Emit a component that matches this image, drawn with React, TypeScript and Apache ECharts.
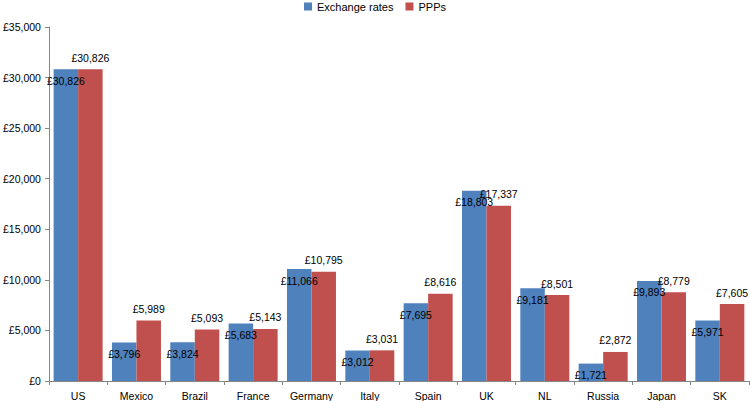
import React, { useEffect, useRef } from "react";
import * as echarts from "echarts";

const categories = ["US", "Mexico", "Brazil", "France", "Germany", "Italy", "Spain", "UK", "NL", "Russia", "Japan", "SK"];
const exchangeRates = [30826, 3796, 3824, 5683, 11066, 3012, 7695, 18803, 9181, 1721, 9893, 5971];
const ppps = [30826, 5989, 5093, 5143, 10795, 3031, 8616, 17337, 8501, 2872, 8779, 7605];

const fmt = (v: number) => "£" + v.toLocaleString("en-US");
const FONT = "Liberation Sans";

export default function App() {
  const ref = useRef<HTMLDivElement>(null);
  useEffect(() => {
    if (!ref.current) return;
    const chart = echarts.init(ref.current, undefined, { renderer: "svg" });
    chart.setOption({
      animation: false,
      textStyle: { fontFamily: FONT },
      legend: {
        top: 0,
        left: "center",
        padding: [1, 5],
        icon: "rect",
        itemWidth: 8,
        itemHeight: 8,
        itemGap: 12,
        textStyle: { fontFamily: FONT, fontSize: 11, color: "#000" },
        data: ["Exchange rates", "PPPs"],
      },
      grid: { left: 48, right: 1, top: 27, bottom: 20, containLabel: false },
      xAxis: {
        type: "category",
        data: categories,
        axisLine: { lineStyle: { color: "#868686" } },
        axisTick: { show: true, length: 4, lineStyle: { color: "#868686" } },
        axisLabel: { color: "#000", fontSize: 10.5, fontFamily: FONT, margin: 9 },
      },
      yAxis: {
        type: "value",
        min: 0,
        max: 35000,
        interval: 5000,
        axisLine: { show: true, lineStyle: { color: "#868686" } },
        axisTick: { show: true, length: 4, lineStyle: { color: "#868686" } },
        splitLine: { show: false },
        axisLabel: { color: "#000", fontSize: 10.5, fontFamily: FONT, margin: 8, formatter: (v: number) => fmt(v) },
      },
      series: [
        {
          name: "Exchange rates",
          type: "bar",
          data: exchangeRates,
          barGap: "0%",
          barCategoryGap: "16%",
          itemStyle: { color: "#4F81BD" },
          label: {
            show: true,
            position: "insideTop",
            distance: 6,
            color: "#000",
            fontSize: 10.5,
            fontFamily: FONT,
            formatter: (p: any) => fmt(p.value),
          },
        },
        {
          name: "PPPs",
          type: "bar",
          data: ppps,
          itemStyle: { color: "#C0504D" },
          label: {
            show: true,
            position: "top",
            distance: 6,
            color: "#000",
            fontSize: 10.5,
            fontFamily: FONT,
            formatter: (p: any) => fmt(p.value),
          },
        },
      ],
    });
    return () => chart.dispose();
  }, []);
  return <div ref={ref} style={{ width: 750, height: 401, position: "absolute", left: 0, top: 0 }} />;
}
